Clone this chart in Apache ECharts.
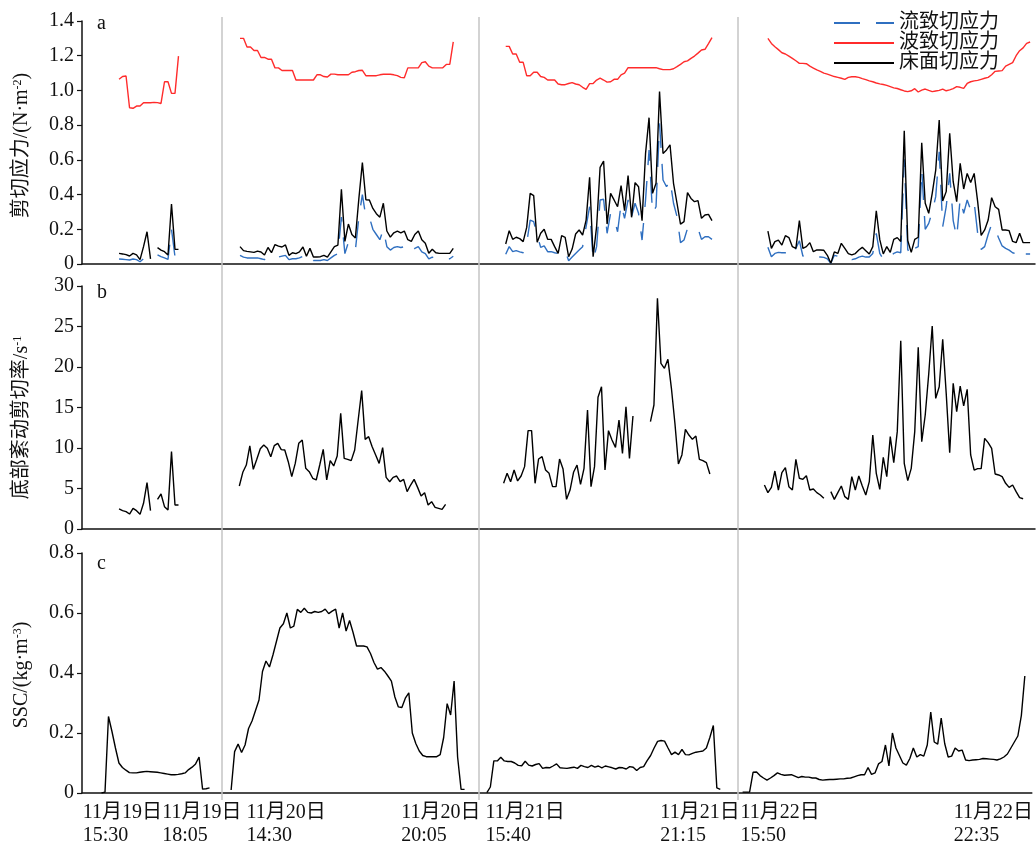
<!DOCTYPE html>
<html>
<head>
<meta charset="utf-8">
<script src="https://cdn.jsdelivr.net/npm/echarts@6/dist/echarts.min.js"></script>
<style>
html,body{margin:0;padding:0;background:#fff;}
#chart{width:1036px;height:847px;}
</style>
</head>
<body>
<div id="chart"></div>
<script>
// ---------------- DATA ----------------
const STEP = 5; // minutes between samples (x axis unit: minutes on a compressed time scale)
const X_MAX = 1363;
const xLabelPos = [1, 115, 236, 458, 579, 830, 945, 1251];
const xLabels = ['11月19日\n15:30', '11月19日\n18:05', '11月20日\n14:30', '11月20日\n20:05',
                 '11月21日\n15:40', '11月21日\n21:15', '11月22日\n15:50', '11月22日\n22:35'];
const dayBreaks = [200, 568, 938];

const yTicksA = [0, 1.4, 0.2];
const yTicksB = [0, 30, 5];
const yTicksC = [0, 0.8, 0.2];

// shear stress (panel a) segment starts
const stressStarts = [53, 226, 606, 981];
// 流致切应力 (current-induced)
const flowStress1 = [0.029,0.027,0.025,0.023,0.029,0.025,0.013,0.03,0.061,0.023,null,0.052,0.042,0.035,0.027,0.2,0.042,null];
const flowStress2 = [0.05,0.04,0.035,0.035,0.035,0.035,0.03,0.025,0.04,0.03,0.045,0.04,0.045,0.05,0.025,0.03,0.03,0.035,0.045,0.02,0.04,0.02,0.02,0.02,0.025,0.02,0.035,0.05,0.06,0.27,0.06,0.125,0.09,0.08,0.27,0.4,0.27,0.27,0.2,0.17,0.14,0.2,0.1,0.08,0.095,0.1,0.095,0.1,0.07,0.065,0.09,0.1,0.07,0.06,0.03,0.04,0.03,0.03,0.03,0.03,0.03,0.045];
const flowStress3 = [0.056,0.1,0.071,0.077,0.07,0.065,0.12,0.253,0.244,0.167,0.096,0.104,0.071,0.071,0.065,0.06,0.084,0.077,0.019,0.04,0.061,0.08,0.1,0.215,0.33,0.023,0.1,0.369,0.373,0.177,0.292,0.263,0.186,0.346,0.263,0.369,0.273,0.35,0.292,0.138,0.369,0.657,0.292,0.33,0.81,0.484,0.445,0.484,0.35,0.273,0.123,0.138,0.205,0.2,0.205,0.205,0.142,0.157,0.157,0.142];
const flowStress4 = [0.096,0.042,0.061,0.067,0.065,0.065,0.071,0.046,0.09,0.134,0.046,0.045,0.05,0.04,0.04,0.04,0.038,0.03,0.004,0.05,0.045,0.055,0.046,0.035,0.025,0.03,0.04,0.045,0.04,0.04,0.061,0.177,0.061,0.027,0.052,0.042,0.061,0.07,0.065,0.603,0.084,0.042,0.09,0.1,0.541,0.2,0.234,0.3,0.388,0.647,0.215,0.33,0.522,0.25,0.154,0.378,0.292,0.369,0.311,0.355,0.177,0.084,0.1,0.17,0.23,0.2,0.15,0.104,0.09,0.08,0.065,0.058,0.085,0.058,0.058,0.058];
// 波致切应力 (wave-induced)
const waveStress1 = [1.064,1.08,1.083,0.9,0.897,0.91,0.91,0.929,0.929,0.929,0.931,0.93,0.925,1.05,1.05,0.983,0.983,1.198];
const waveStress2 = [1.30,1.30,1.25,1.25,1.23,1.23,1.19,1.19,1.18,1.18,1.13,1.13,1.115,1.115,1.115,1.115,1.06,1.06,1.06,1.06,1.06,1.06,1.09,1.09,1.08,1.077,1.094,1.094,1.09,1.09,1.09,1.09,1.105,1.108,1.115,1.116,1.085,1.085,1.085,1.085,1.09,1.093,1.093,1.093,1.09,1.085,1.075,1.073,1.13,1.13,1.13,1.13,1.16,1.165,1.14,1.13,1.13,1.13,1.13,1.15,1.15,1.28];
const waveStress3 = [1.254,1.254,1.21,1.21,1.162,1.162,1.085,1.085,1.105,1.105,1.08,1.075,1.06,1.06,1.06,1.037,1.033,1.033,1.04,1.045,1.037,1.033,1.018,1.006,1.039,1.04,1.06,1.071,1.06,1.048,1.05,1.064,1.064,1.09,1.1,1.131,1.131,1.131,1.131,1.131,1.131,1.131,1.131,1.131,1.125,1.12,1.12,1.12,1.125,1.137,1.15,1.165,1.17,1.185,1.198,1.215,1.233,1.237,1.27,1.304];
const waveStress4 = [1.3,1.271,1.252,1.235,1.217,1.21,1.198,1.185,1.171,1.156,1.156,1.154,1.14,1.129,1.118,1.11,1.1,1.094,1.087,1.08,1.075,1.07,1.064,1.075,1.079,1.079,1.075,1.068,1.062,1.055,1.05,1.043,1.038,1.034,1.029,1.022,1.015,1.011,1.004,0.997,0.993,0.998,1.01,0.991,1.002,1.008,1.0,0.993,0.997,1.0,1.008,0.998,1.003,1.01,1.022,1.018,1.012,1.04,1.05,1.055,1.058,1.064,1.07,1.075,1.09,1.11,1.112,1.114,1.14,1.15,1.16,1.2,1.229,1.245,1.271,1.279];
// 床面切应力 (bed)
const bedStress1 = [0.061,0.058,0.054,0.046,0.061,0.053,0.025,0.1,0.186,0.03,null,0.094,0.08,0.071,0.052,0.346,0.085,0.084];
const bedStress2 = [0.10,0.077,0.073,0.07,0.067,0.074,0.069,0.052,0.095,0.065,0.112,0.103,0.098,0.11,0.05,0.065,0.06,0.07,0.098,0.045,0.09,0.04,0.04,0.042,0.05,0.04,0.07,0.1,0.109,0.43,0.13,0.23,0.17,0.15,0.378,0.584,0.37,0.369,0.32,0.29,0.27,0.35,0.19,0.155,0.18,0.19,0.18,0.19,0.14,0.13,0.17,0.19,0.14,0.12,0.062,0.085,0.065,0.061,0.061,0.061,0.061,0.09];
const bedStress3 = [0.115,0.192,0.142,0.154,0.146,0.129,0.211,0.407,0.394,0.125,0.177,0.2,0.142,0.142,0.1,0.061,0.163,0.154,0.042,0.086,0.173,0.196,0.167,0.253,0.5,0.042,0.215,0.557,0.593,0.23,0.407,0.369,0.33,0.451,0.307,0.509,0.269,0.469,0.445,0.25,0.637,0.843,0.407,0.465,0.993,0.637,0.657,0.686,0.465,0.35,0.23,0.244,0.411,0.378,0.359,0.365,0.263,0.282,0.286,0.25];
const bedStress4 = [0.19,0.09,0.129,0.138,0.109,0.163,0.152,0.1,0.09,0.25,0.09,0.1,0.123,0.071,0.081,0.081,0.079,0.05,0.004,0.07,0.061,0.119,0.09,0.06,0.052,0.06,0.081,0.096,0.077,0.058,0.1,0.307,0.14,0.058,0.1,0.067,0.142,0.152,0.13,0.768,0.135,0.067,0.142,0.154,0.699,0.35,0.292,0.407,0.541,0.83,0.363,0.417,0.753,0.474,0.359,0.58,0.432,0.522,0.469,0.522,0.359,0.165,0.196,0.253,0.382,0.33,0.315,0.196,0.196,0.192,0.13,0.123,0.177,0.123,0.123,0.123];

// 底部紊动剪切率 (panel b)
const shearStarts = [53, 225, 603, 976];
const shearRate1 = [2.47,2.26,2.14,1.85,2.55,2.26,1.81,3.17,5.72,2.26,null,3.66,4.32,2.76,2.35,9.55,2.96,2.96];
const shearRate2 = [5.31,7.0,7.9,10.25,7.37,8.6,9.9,10.37,9.96,8.93,10.29,10.58,9.8,9.75,8.31,6.46,8.1,10.58,10.99,7.49,7.08,6.26,6.05,7.9,9.84,6.05,8.44,7.78,9.01,14.28,8.72,8.6,8.44,9.75,13.46,17.08,11.07,11.4,10.16,9.14,8.1,10.04,6.38,5.84,6.38,6.54,5.84,6.13,4.61,5.43,6.13,5.14,4.07,4.49,2.96,3.37,2.67,2.55,2.43,3.05];
const shearRate3 = [5.64,6.87,5.84,7.28,5.93,6.54,7.7,12.14,12.14,5.64,8.64,8.93,7.28,6.87,5.23,5.23,8.64,7.4,3.66,4.81,7.0,7.9,5.51,7.49,14.69,5.23,7.7,16.26,17.57,7.28,12.14,10.99,10.08,13.46,9.34,15.1,8.72,13.95,null,null,null,null,13.25,15.31,28.48,20.45,19.84,20.95,17.37,13.05,8.02,9.14,12.3,11.6,11.07,11.48,8.6,8.44,8.19,6.79];
const shearRate4 = [5.43,4.49,5.14,7.16,4.81,6.95,7.57,5.23,4.81,8.6,6.26,6.13,6.58,4.81,4.94,4.49,4.2,3.79,null,4.61,3.66,4.49,5.31,3.99,3.66,6.46,4.81,6.54,5.31,4.2,5.84,11.6,6.87,4.9,8.85,6.46,11.4,8.19,12.02,23.25,8.11,5.97,7.49,12.02,22.43,10.78,14.07,19.14,25.06,16.13,17.57,23.42,16.75,9.42,17.98,14.49,17.65,15.19,17.24,9.14,7.28,7.45,7.45,11.19,10.66,9.96,6.79,6.67,6.46,5.64,5.14,5.43,4.61,3.87,3.74];

// SSC (panel c)
const sscStarts = [28, 214, 581, 948];
const ssc1 = [0.0,0.003,0.255,0.205,0.15,0.1,0.085,0.076,0.068,0.067,0.067,0.069,0.071,0.072,0.071,0.07,0.069,0.067,0.065,0.063,0.061,0.061,0.062,0.064,0.067,0.078,0.086,0.097,0.12,0.013,0.014,0.017];
const ssc2 = [0.01,0.138,0.163,0.135,0.16,0.215,0.24,0.275,0.31,0.405,0.44,0.42,0.46,0.505,0.55,0.564,0.6,0.55,0.556,0.612,0.602,0.616,0.602,0.6,0.605,0.602,0.605,0.613,0.598,0.606,0.613,0.55,0.6,0.54,0.575,0.535,0.49,0.49,0.49,0.487,0.465,0.435,0.413,0.418,0.406,0.39,0.373,0.32,0.287,0.285,0.316,0.334,0.2,0.165,0.14,0.125,0.121,0.121,0.121,0.121,0.128,0.185,0.298,0.26,0.373,0.12,0.012,0.012];
const ssc3 = [0.001,0.02,0.107,0.107,0.119,0.107,0.105,0.105,0.1,0.092,0.091,0.106,0.093,0.09,0.095,0.098,0.082,0.085,0.084,0.09,0.097,0.084,0.083,0.082,0.084,0.086,0.082,0.092,0.088,0.085,0.092,0.086,0.09,0.084,0.09,0.087,0.084,0.08,0.085,0.084,0.08,0.088,0.086,0.075,0.085,0.088,0.108,0.125,0.15,0.172,0.175,0.173,0.15,0.128,0.136,0.128,0.145,0.128,0.127,0.132,0.136,0.138,0.14,0.15,0.185,0.225,0.017,0.012];
const ssc4 = [0.003,0.003,0.003,0.069,0.07,0.058,0.05,0.043,0.05,0.058,0.067,0.062,0.059,0.06,0.061,0.056,0.051,0.055,0.053,0.053,0.05,0.05,0.045,0.043,0.044,0.045,0.045,0.046,0.047,0.047,0.049,0.05,0.054,0.058,0.061,0.061,0.085,0.062,0.067,0.097,0.105,0.16,0.09,0.2,0.15,0.125,0.1,0.093,0.115,0.15,0.12,0.128,0.123,0.16,0.27,0.17,0.163,0.25,0.165,0.12,0.123,0.15,0.14,0.143,0.11,0.108,0.11,0.111,0.112,0.115,0.114,0.113,0.112,0.11,0.114,0.12,0.13,0.15,0.17,0.19,0.258,0.39];

// ---------------- CHART ----------------
function toSeries(starts, segs) {
  const out = [];
  segs.forEach((vals, s) => {
    if (s > 0) out.push([starts[s] - STEP, '-']);
    vals.forEach((v, i) => out.push([starts[s] + i * STEP, v === null ? '-' : v]));
  });
  return out;
}

const FONT = "'Liberation Serif','Times New Roman','Noto Sans CJK SC',serif";
const BLACK = '#000';
const RED = '#ff2b2b';
const BLUE = '#2f6fc0';

const labelMap = {};
xLabelPos.forEach((p, i) => { labelMap[p] = xLabels[i]; });

function xAxisCfg(gi, withLabels) {
  return {
    type: 'value', gridIndex: gi, min: 0, max: X_MAX,
    splitLine: { show: false },
    axisTick: { show: false },
    axisLine: { show: gi < 3, onZero: false, lineStyle: { color: '#111', width: 1.5 } },
    axisLabel: withLabels ? {
      show: true, customValues: xLabelPos, showMinLabel: true, showMaxLabel: true, hideOverlap: false,
      formatter: (v) => labelMap[v] || '',
      align: 'left', margin: 8, fontSize: 20, lineHeight: 23,
      color: '#111', fontFamily: FONT
    } : { show: false }
  };
}
function yAxisCfg(gi, ticks, name, fmt, pad) {
  return {
    type: 'value', gridIndex: gi, min: ticks[0], max: ticks[1], interval: ticks[2],
    splitLine: { show: false },
    axisLine: { show: true, lineStyle: { color: '#111', width: 1.5 } },
    axisTick: { show: true, length: 5, lineStyle: { color: '#111', width: 1.2 } },
    axisLabel: { margin: 8, fontSize: 20, color: '#111', fontFamily: FONT, formatter: fmt },
    name: name, nameLocation: 'middle', nameGap: 50, nameRotate: 90,
    nameTextStyle: {
      fontSize: 20, color: '#111', fontFamily: FONT, padding: pad,
      rich: { sup: { fontSize: 12, verticalAlign: 'top', fontFamily: FONT, color: '#111', padding: [0, 0, 8, 0] } }
    }
  };
}

const chart = echarts.init(document.getElementById('chart'), null, { renderer: 'canvas' });
const lineBase = { type: 'line', showSymbol: false, symbol: 'none', connectNulls: false, animation: false };

chart.setOption({
  animation: false,
  backgroundColor: '#fff',
  title: [
    { text: 'a', left: 97, top: 14, padding: 0, textStyle: { fontSize: 20, fontWeight: 'normal', fontFamily: FONT, color: '#111' } },
    { text: 'b', left: 97, top: 283, padding: 0, textStyle: { fontSize: 20, fontWeight: 'normal', fontFamily: FONT, color: '#111' } },
    { text: 'c', left: 97, top: 554, padding: 0, textStyle: { fontSize: 20, fontWeight: 'normal', fontFamily: FONT, color: '#111' } }
  ],
  legend: {
    data: ['流致切应力', '波致切应力', '床面切应力'],
    orient: 'vertical', left: 833, top: 13, padding: 0,
    itemWidth: 60, itemHeight: 12, itemGap: 0,
    itemStyle: { color: 'rgba(0,0,0,0)', borderWidth: 0, opacity: 0 },
    textStyle: { fontSize: 20, lineHeight: 20, color: '#111', fontFamily: FONT }
  },
  grid: [
    { left: 82, right: 1, top: 21, height: 243 },
    { left: 82, right: 1, top: 286, height: 243 },
    { left: 82, right: 1, top: 553, height: 244 },
    { left: 82, right: 1, top: 17, height: 783 }
  ],
  xAxis: [xAxisCfg(0, false), xAxisCfg(1, false), xAxisCfg(2, true), xAxisCfg(3, false)],
  yAxis: [
    yAxisCfg(0, yTicksA, '剪切应力/(N·m{sup|-2})', (v) => v === 0 ? '0' : v.toFixed(1), [0, 6, 0, 0]),
    yAxisCfg(1, yTicksB, '底部紊动剪切率/s{sup|-1}', (v) => String(v), [0, 20, 0, 0]),
    yAxisCfg(2, yTicksC, 'SSC/(kg·m{sup|-3})', (v) => v === 0 ? '0' : v.toFixed(1), [0, 4, 0, 0]),
    { type: 'value', gridIndex: 3, min: 0, max: 1, show: false }
  ],
  series: [
    Object.assign({}, lineBase, {
      name: 'separators', xAxisIndex: 3, yAxisIndex: 3, z: 0,
      data: [[0, '-']],
      markLine: {
        silent: true, symbol: 'none', animation: false,
        label: { show: false },
        lineStyle: { color: '#c4c4c4', width: 1.5, type: 'solid' },
        data: dayBreaks.map((x) => ({ xAxis: x }))
      }
    }),
    Object.assign({}, lineBase, {
      name: '波致切应力', xAxisIndex: 0, yAxisIndex: 0, z: 3,
      lineStyle: { color: RED, width: 1.4 }, itemStyle: { color: RED },
      data: toSeries(stressStarts, [waveStress1, waveStress2, waveStress3, waveStress4])
    }),
    Object.assign({}, lineBase, {
      name: '流致切应力', xAxisIndex: 0, yAxisIndex: 0, z: 3,
      lineStyle: { color: BLUE, width: 1.4, type: [26, 16] }, itemStyle: { color: BLUE },
      data: toSeries(stressStarts, [flowStress1, flowStress2, flowStress3, flowStress4])
    }),
    Object.assign({}, lineBase, {
      name: '床面切应力', xAxisIndex: 0, yAxisIndex: 0, z: 4,
      lineStyle: { color: BLACK, width: 1.4 }, itemStyle: { color: BLACK },
      data: toSeries(stressStarts, [bedStress1, bedStress2, bedStress3, bedStress4])
    }),
    Object.assign({}, lineBase, {
      name: '底部紊动剪切率', xAxisIndex: 1, yAxisIndex: 1, z: 4,
      lineStyle: { color: BLACK, width: 1.4 }, itemStyle: { color: BLACK },
      data: toSeries(shearStarts, [shearRate1, shearRate2, shearRate3, shearRate4])
    }),
    Object.assign({}, lineBase, {
      name: 'SSC', xAxisIndex: 2, yAxisIndex: 2, z: 4,
      lineStyle: { color: BLACK, width: 1.4 }, itemStyle: { color: BLACK },
      data: toSeries(sscStarts, [ssc1, ssc2, ssc3, ssc4])
    })
  ]
});
</script>
</body>
</html>
